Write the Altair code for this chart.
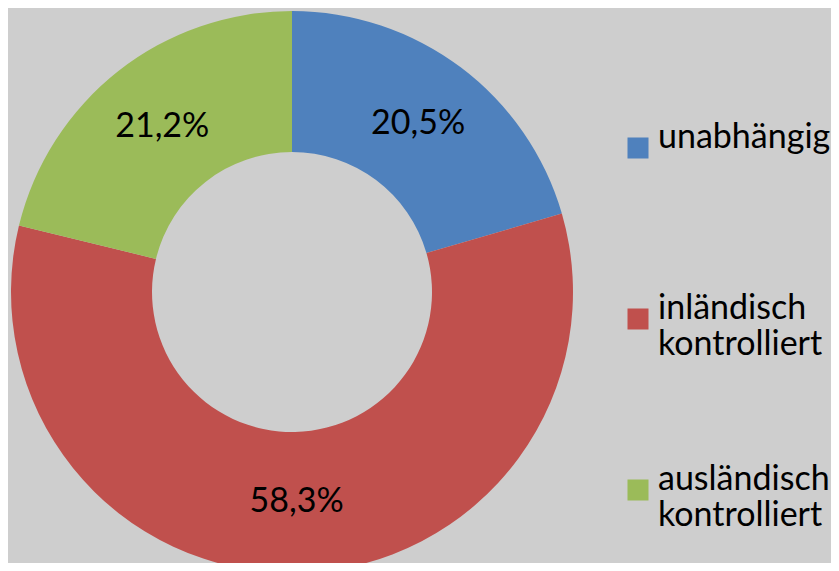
import altair as alt
import pandas as pd

categories = ["unabhängig", "inländisch kontrolliert", "ausländisch kontrolliert"]
values = [20.5, 58.3, 21.2]
labels = ["20,5%", "58,3%", "21,2%"]
colors = ["#4f81bd", "#c0504d", "#9bbb59"]

df = pd.DataFrame({
    "kategorie": categories,
    "wert": values,
    "label": labels,
    "ord": list(range(len(categories))),
})

base = alt.Chart(df).encode(
    theta=alt.Theta("wert:Q", stack=True),
    order=alt.Order("ord:Q"),
)

arc = base.mark_arc(outerRadius=281, innerRadius=140).encode(
    x=alt.value(284),
    y=alt.value(284),
    color=alt.Color(
        "kategorie:N",
        scale=alt.Scale(domain=categories, range=colors),
        legend=alt.Legend(
            title=None,
            orient="none",
            legendX=613,
            legendY=123,
            symbolType="square",
            symbolSize=441,
            symbolStrokeWidth=0,
            labelFont="Lato",
            labelFontSize=34,
            labelColor="#000000",
            labelLimit=0,
            labelOffset=3,
            labelBaseline="alphabetic",
            labelExpr="length(split(datum.label, ' ')) > 1 ? split(datum.label, ' ') : [datum.label, '']",
            rowPadding=101,
            padding=0,
        ),
    ),
)

text = base.mark_text(radius=210, font="Lato", fontSize=34, color="#000000",
                      baseline="middle", align="center").encode(
    x=alt.value(284),
    y=alt.value(284),
    text="label:N",
)

chart = (arc + text).properties(
    width=823, height=555,
    autosize=alt.AutoSizeParams(type="none"),
    padding=0,
    background="#cecece",
).configure_view(stroke=None)

chart.save("out.html", embed_options={"renderer": "svg", "actions": False})
